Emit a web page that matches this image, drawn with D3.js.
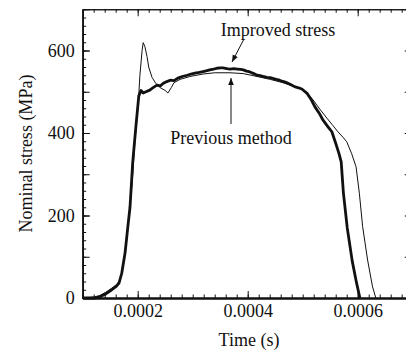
<!DOCTYPE html>
<html><head><meta charset="utf-8">
<script src="https://cdn.jsdelivr.net/npm/d3@7"></script>
<style>body{margin:0;background:#fff}svg{display:block}</style>
</head><body>
<script>
// Data
const improvedT = [0.000100,0.000122,0.000131,0.000142,0.000153,0.000161,0.000166,0.000171,0.000177,0.000182,0.000186,0.000191,0.000197,0.000202,0.000206,0.000210,0.000215,0.000222,0.000228,0.000235,0.000241,0.000246,0.000252,0.000259,0.000266,0.000273,0.000281,0.000290,0.000297,0.000304,0.000312,0.000319,0.000326,0.000331,0.000338,0.000344,0.000350,0.000355,0.000362,0.000368,0.000375,0.000381,0.000387,0.000392,0.000398,0.000404,0.000411,0.000417,0.000423,0.000428,0.000435,0.000441,0.000447,0.000452,0.000458,0.000464,0.000471,0.000477,0.000483,0.000488,0.000494,0.000499,0.000508,0.000515,0.000522,0.000530,0.000537,0.000546,0.000553,0.000560,0.000566,0.000570,0.000574,0.000581,0.000590,0.000598,0.000604];
const improvedS = [0,0,3,10,20,28,36,60,109,172,220,330,420,490,503,497,500,504,510,516,514,520,524,528,527,533,537,540,543,545,547,549,551,553,555,557,558,558,556,555,556,555,554,553,550,548,544,540,539,537,535,534,532,530,528,525,522,518,514,511,509,506,496,482,464,448,431,415,403,375,350,330,255,170,90,36,0];
const previousT = [0.000100,0.000119,0.000131,0.000142,0.000153,0.000162,0.000168,0.000173,0.000179,0.000184,0.000190,0.000195,0.000201,0.000204,0.000208,0.000210,0.000213,0.000217,0.000220,0.000226,0.000233,0.000241,0.000250,0.000255,0.000261,0.000266,0.000277,0.000295,0.000319,0.000340,0.000368,0.000392,0.000417,0.000441,0.000464,0.000486,0.000499,0.000510,0.000519,0.000531,0.000544,0.000555,0.000564,0.000573,0.000580,0.000589,0.000597,0.000603,0.000609,0.000618,0.000627,0.000633];
const previousS = [0,2,6,14,24,33,45,75,130,195,280,380,470,540,600,619,610,585,560,535,520,510,503,497,510,522,530,537,543,546,546,544,537,530,522,512,506,494,480,458,436,418,403,390,379,350,318,254,173,92,27,0];
const xMajorTicks = [0.0002,0.0004,0.0006];
const yMajorTicks = [0,200,400,600];
const xTitle = "Time (s)";
const yTitle = "Nominal stress (MPa)";
const annotations = ["Improved stress","Previous method"];

const FONT = "'Liberation Serif','Times New Roman',Times,'DejaVu Serif',serif";
const FS = 18;
const W=406,H=352;
const m={left:82.7,right:412.7,top:9.25,bottom:298};
const x=d3.scaleLinear().domain([0.0001,0.0007]).range([m.left,m.right]);
const y=d3.scaleLinear().domain([0,700]).range([m.bottom,m.top]);
const svg=d3.select("body").append("svg").attr("width",W).attr("height",H).style("font-family",FONT);

const xMinor=d3.range(0.0001,0.00070001,0.00002);
const yMinor=d3.range(0,701,20);
const yMed=d3.range(0,701,100);
function style(g,sw){
  g.attr("font-family",null).attr("font-size",null);
  g.select(".domain").attr("stroke","#111").attr("stroke-width",sw);
  g.selectAll(".tick line").attr("stroke","#111").attr("stroke-width",1);
  g.selectAll("text").style("font-family",FONT).style("font-size",FS+"px").attr("fill","#111");
}

// bottom
let g=svg.append("g").attr("transform",`translate(0,${m.bottom})`).call(d3.axisBottom(x).tickValues(xMinor).tickSize(-3.5).tickSizeOuter(0).tickFormat(""));style(g,2);
g=svg.append("g").attr("transform",`translate(0,${m.bottom})`).call(d3.axisBottom(x).tickValues(xMajorTicks).tickSize(-7).tickSizeOuter(0).tickPadding(17).tickFormat(d=>d.toFixed(4)));style(g,2);
g.selectAll("text").attr("dy","0.1em");
// top
g=svg.append("g").attr("transform",`translate(0,${m.top})`).call(d3.axisTop(x).tickValues(xMinor).tickSize(-3.5).tickSizeOuter(0).tickFormat(""));style(g,1.2);
g=svg.append("g").attr("transform",`translate(0,${m.top})`).call(d3.axisTop(x).tickValues(xMajorTicks).tickSize(-7).tickSizeOuter(0).tickFormat(""));style(g,1.2);
// left
g=svg.append("g").attr("transform",`translate(${m.left},0)`).call(d3.axisLeft(y).tickValues(yMinor).tickSize(-3.5).tickSizeOuter(0).tickFormat(""));style(g,1.5);
g=svg.append("g").attr("transform",`translate(${m.left},0)`).call(d3.axisLeft(y).tickValues(yMed).tickSize(-7).tickSizeOuter(0).tickFormat(""));style(g,1.5);
g=svg.append("g").attr("transform",`translate(${m.left},0)`).call(d3.axisLeft(y).tickValues(yMajorTicks).tickSize(-7).tickSizeOuter(0).tickPadding(8).tickFormat(d3.format("d")));style(g,1.5);
// right
g=svg.append("g").attr("transform",`translate(${m.right},0)`).call(d3.axisRight(y).tickValues(yMinor).tickSize(-3.5).tickSizeOuter(0).tickFormat(""));style(g,1.5);
g=svg.append("g").attr("transform",`translate(${m.right},0)`).call(d3.axisRight(y).tickValues(yMed).tickSize(-8).tickSizeOuter(0).tickFormat(""));style(g,1.5);

// lines
const line=d3.line().x(d=>x(d[0])).y(d=>y(d[1]));
svg.append("path").datum(previousT.map((t,i)=>[t,previousS[i]])).attr("d",line).attr("fill","none").attr("stroke","#111").attr("stroke-width",1);
svg.append("path").datum(improvedT.map((t,i)=>[t,improvedS[i]])).attr("d",line).attr("fill","none").attr("stroke","#111").attr("stroke-width",2.8).attr("stroke-linejoin","round");

function txt(){return svg.append("text").style("font-family",FONT).style("font-size",FS+"px").attr("fill","#111");}
// titles
txt().attr("x",249).attr("y",346).attr("text-anchor","middle").text(xTitle);
txt().attr("transform",`translate(32,${(m.top+m.bottom)/2}) rotate(-90)`).attr("text-anchor","middle").text(yTitle);

// annotations
svg.append("defs").append("marker").attr("id","ah").attr("viewBox","0 0 10 10").attr("refX",10).attr("refY",5).attr("markerWidth",7).attr("markerHeight",7).attr("orient","auto-start-reverse").attr("markerUnits","userSpaceOnUse")
  .append("path").attr("d","M0,1 L10,5 L0,9 Z").attr("fill","#111");
txt().attr("x",278).attr("y",36).attr("text-anchor","middle").text(annotations[0]);
svg.append("line").attr("x1",244).attr("y1",39).attr("x2",232).attr("y2",62).attr("stroke","#111").attr("stroke-width",1).attr("marker-end","url(#ah)");
txt().attr("x",231).attr("y",144).attr("text-anchor","middle").text(annotations[1]);
svg.append("line").attr("x1",231).attr("y1",124).attr("x2",231).attr("y2",78).attr("stroke","#111").attr("stroke-width",1).attr("marker-end","url(#ah)");
</script>
</body></html>
